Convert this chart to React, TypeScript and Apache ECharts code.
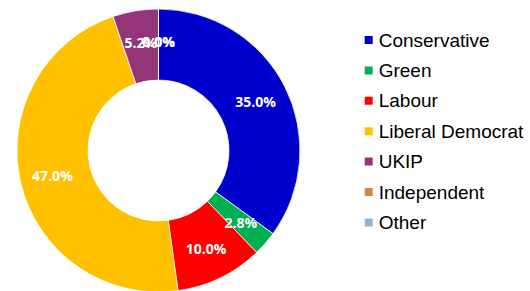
import React, { useEffect, useRef } from "react";
import * as echarts from "echarts";

const categories = ["Conservative", "Green", "Labour", "Liberal Democrat", "UKIP", "Independent", "Other"];
const values = [35.0, 2.8, 10.0, 47.0, 5.2, 0.0, 0.0];
const colors = ["#0000CC", "#00B050", "#FF0000", "#FFC000", "#953579", "#DC8240", "#95B3D7"];

export default function App() {
  const ref = useRef<HTMLDivElement>(null);
  useEffect(() => {
    if (!ref.current) return;
    const chart = echarts.init(ref.current, undefined, { renderer: "svg" });
    chart.setOption({
      animation: false,
      color: colors,
      legend: {
        orient: "vertical",
        left: 362.7,
        top: 30.5,
        itemWidth: 10,
        itemHeight: 10,
        itemGap: 11.4,
        icon: "rect",
        padding: 0,
        data: categories,
        textStyle: { fontFamily: "Liberation Sans", fontSize: 19, lineHeight: 19, color: "#000", padding: [0, 0, 0, 0] },
      },
      series: [
        {
          type: "pie",
          center: [158.5, 150.5],
          radius: [70.5, 141.5],
          startAngle: 90,
          clockwise: true,
          avoidLabelOverlap: false,
          labelLayout: { hideOverlap: false },
          itemStyle: { borderColor: "#fff", borderWidth: 0.75 },
          label: {
            show: true,
            position: "inside",
            formatter: (p: any) => Number(p.value).toFixed(1) + "%",
            color: "#fff",
            fontFamily: "Open Sans",
            fontWeight: "bold",
            fontSize: 14,
          },
          labelLine: { show: false },
          emphasis: { disabled: true },
          data: categories.map((name, i) => ({ name, value: values[i] })),
        },
      ],
    });
    return () => chart.dispose();
  }, []);
  return <div ref={ref} style={{ position: "fixed", left: 0, top: 0, width: 530, height: 291, background: "#fff" }} />;
}
